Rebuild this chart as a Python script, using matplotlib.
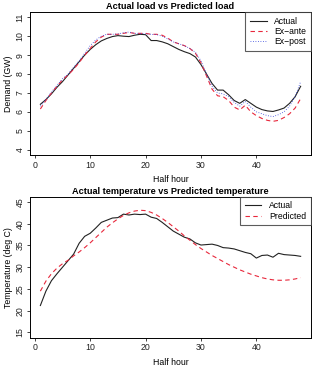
import matplotlib
matplotlib.use("Agg")
import matplotlib.pyplot as plt

plt.rcParams['font.family'] = ['Liberation Sans', 'DejaVu Sans']

half_hour = list(range(1, 49))

load_actual = [6.4, 6.65, 6.95, 7.3, 7.6, 7.95, 8.3, 8.65, 9.0, 9.3,
               9.55, 9.75, 9.88, 9.98, 10.03, 10.0, 9.98, 10.05, 10.1, 10.08,
               9.77, 9.77, 9.7, 9.6, 9.45, 9.3, 9.18, 9.08, 8.9, 8.5,
               8.0, 7.5, 7.15, 7.15, 6.9, 6.6, 6.45, 6.65, 6.45, 6.25,
               6.12, 6.05, 6.02, 6.1, 6.2, 6.45, 6.8, 7.35]
load_exante = [6.15, 6.6, 7.0, 7.35, 7.7, 7.95, 8.25, 8.6, 9.0, 9.35,
               9.7, 9.95, 10.1, 10.1, 10.1, 10.15, 10.2, 10.15, 10.15, 10.15,
               10.1, 10.1, 10.05, 9.9, 9.7, 9.6, 9.5, 9.35, 9.1, 8.6,
               7.9, 7.2, 6.85, 6.8, 6.6, 6.25, 6.1, 6.35, 6.0, 5.8,
               5.65, 5.55, 5.5, 5.55, 5.7, 5.9, 6.2, 6.7]
load_expost = [6.3, 6.65, 7.05, 7.4, 7.75, 8.0, 8.35, 8.7, 9.1, 9.5,
               9.8, 10.0, 10.1, 10.1, 10.12, 10.18, 10.22, 10.15, 10.15, 10.12,
               10.1, 10.08, 10.0, 9.85, 9.7, 9.6, 9.5, 9.35, 9.15, 8.7,
               8.0, 7.35, 7.0, 6.95, 6.8, 6.5, 6.3, 6.55, 6.25, 6.0,
               5.9, 5.8, 5.75, 5.85, 6.0, 6.3, 6.8, 7.6]

temp_actual = [21.2, 24.5, 26.9, 28.5, 30.0, 31.5, 33.0, 35.5, 37.1, 37.8,
               39.0, 40.3, 40.8, 41.3, 41.4, 42.2, 42.0, 42.2, 42.1, 42.2,
               41.5, 41.2, 40.3, 39.3, 38.3, 37.6, 36.9, 36.5, 35.6, 35.1,
               35.2, 35.3, 35.0, 34.5, 34.4, 34.2, 33.8, 33.4, 33.1, 32.1,
               32.7, 32.8, 32.3, 33.2, 32.9, 32.8, 32.7, 32.5]
temp_pred = [24.5, 26.8, 28.5, 29.8, 30.8, 31.6, 32.6, 33.5, 34.5, 35.6,
             36.8, 38.0, 39.2, 40.2, 41.1, 41.9, 42.5, 42.9, 43.1, 43.0,
             42.6, 42.0, 41.2, 40.3, 39.3, 38.3, 37.2, 36.2, 35.2, 34.3,
             33.5, 32.7, 32.0, 31.3, 30.6, 30.0, 29.4, 28.9, 28.4, 28.0,
             27.6, 27.3, 27.1, 27.0, 27.0, 27.1, 27.3, 27.6]

fig = plt.figure(figsize=(3.12, 3.73), dpi=100)
ax1 = fig.add_axes([0.096, 0.5845, 0.901, 0.3834])
ax2 = fig.add_axes([0.096, 0.0946, 0.901, 0.378])


def style(ax, ylim, yticks, ylabel, title):
    ax.set_xlim(-0.88, 49.88)
    ax.set_ylim(ylim[0] - 0.04 * (ylim[1] - ylim[0]), ylim[1] + 0.04 * (ylim[1] - ylim[0]))
    ax.set_xticks([0, 10, 20, 30, 40])
    ax.set_yticks(yticks)
    ax.set_yticklabels([str(t) for t in yticks], rotation=90, va="center")
    ax.tick_params(labelsize=6.3, length=2.5, width=0.6, pad=1.5, colors="#222222")
    for s in ax.spines.values():
        s.set_linewidth(0.7)
    ax.set_xlabel("Half hour", fontsize=6.3, labelpad=4)
    ax.set_ylabel(ylabel, fontsize=6.3, labelpad=2)
    ax.set_title(title, fontsize=6.6, fontweight="bold", pad=2)


def add_legend(ax):
    leg = ax.legend(loc="upper right", fontsize=6.2, frameon=True, fancybox=False,
                    edgecolor="#333333", borderaxespad=0, handlelength=1.9,
                    labelspacing=0.15, borderpad=0.55, handletextpad=0.9)
    leg.get_frame().set_linewidth(0.8)


ax1.plot(half_hour, load_actual, color="#222222", lw=0.8, label="Actual")
ax1.plot(half_hour, load_exante, color="#e8283c", lw=0.8, ls=(0, (4, 3)), label="Ex\u2212ante")
ax1.plot(half_hour, load_expost, color="#3344dd", lw=0.6, ls=(0, (1, 2)), label="Ex\u2212post")
style(ax1, (4, 11), list(range(4, 12)), "Demand (GW)", "Actual load vs Predicted load")
add_legend(ax1)

ax2.plot(half_hour, temp_actual, color="#222222", lw=0.8, label="Actual")
ax2.plot(half_hour, temp_pred, color="#e8283c", lw=0.8, ls=(0, (4, 3)), label="Predicted")
style(ax2, (15, 45), list(range(15, 50, 5)), "Temperature (deg C)",
      "Actual temperature vs Predicted temperature")
add_legend(ax2)

fig.savefig("out.png", dpi=100)
